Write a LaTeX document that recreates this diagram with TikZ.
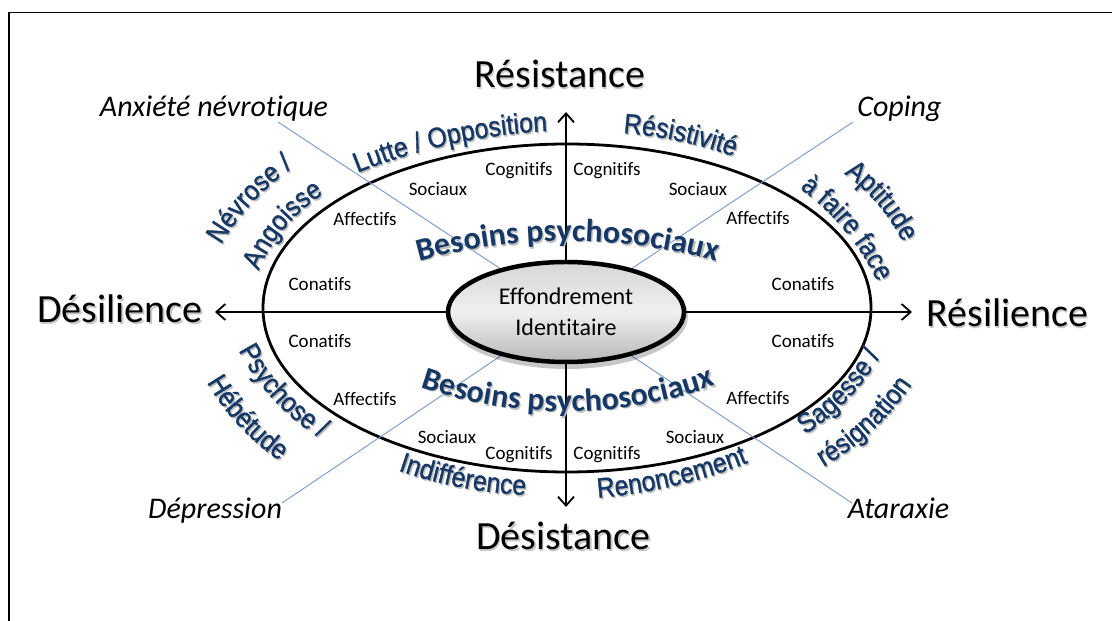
\documentclass[tikz,border=0pt]{standalone}
\usepackage{fontspec}
\setmainfont{Carlito}[Ligatures={NoCommon}]
\newfontfamily\arialf{Liberation Sans}[FakeStretch=0.89,FakeBold=1.2]
\usetikzlibrary{arrows.meta,shapes.geometric,decorations.text,calc}

\definecolor{wordblue}{RGB}{22,56,102}
\definecolor{guideblue}{RGB}{120,152,200}
\definecolor{halo}{RGB}{190,190,190}
\definecolor{polehalo}{RGB}{200,200,200}

\newcommand\wafont{\arialf\fontsize{28}{28}\selectfont}
\newcommand\bsfont{\bfseries\fontsize{32}{32}\selectfont}

% Text bent along a circular arc through the baseline points S=(#2,#3)
% and E=(#4,#5); #6 is the bow (positive: to the left of S->E).
\newcommand\bowtext[7]{%
  \pgfmathsetmacro\bwdx{(#4-#2)/100}%
  \pgfmathsetmacro\bwdy{(#5-#3)/100}%
  \pgfmathsetmacro\bwc{veclen(\bwdx,\bwdy)}%
  \pgfmathsetmacro\bwnx{-\bwdy/\bwc}%
  \pgfmathsetmacro\bwny{\bwdx/\bwc}%
  \pgfmathsetmacro\bwh{(#6)/100}%
  \pgfmathsetmacro\bws{\bwh>0 ? 1 : -1}%
  \pgfmathsetmacro\bwR{(\bwc*\bwc/4+\bwh*\bwh)/(2*abs(\bwh))}%
  \pgfmathsetmacro\bwk{\bwh-\bws*\bwR}%
  \pgfmathsetmacro\bwox{(#2+#4)/200+\bwk*\bwnx}%
  \pgfmathsetmacro\bwoy{(#3+#5)/200+\bwk*\bwny}%
  \pgfmathsetmacro\bwas{atan2(#3/100-\bwoy,#2/100-\bwox)}%
  \pgfmathsetmacro\bwae{atan2(#5/100-\bwoy,#4/100-\bwox)}%
  \pgfmathsetmacro\bwae{\bwh>0 ? (\bwae>\bwas ? \bwae-360 : \bwae) : (\bwae<\bwas ? \bwae+360 : \bwae)}%
  \pgfmathsetmacro\bwext{0.6/\bwR*57.29578}%
  \pgfmathsetmacro\bwsa{\bwas+\bws*\bwext}%
  \pgfmathsetmacro\bwea{\bwae-\bws*\bwext}%
  \pgfmathsetmacro\bwRR{100*\bwR}%
  \pgfmathsetmacro\bwOX{100*\bwox}%
  \pgfmathsetmacro\bwOY{100*\bwoy}%
  \path[decorate,decoration={text along path,text align=center,text color=halo,text={|#1|#7}}]
    ([shift={(\bwsa:\bwRR)},shift={(1.3,-1.6)}]\bwOX,\bwOY) arc[start angle=\bwsa,end angle=\bwea,radius=\bwRR];
  \path[decorate,decoration={text along path,text align=center,text color=wordblue,text={|#1|#7}}]
    ([shift={(\bwsa:\bwRR)}]\bwOX,\bwOY) arc[start angle=\bwsa,end angle=\bwea,radius=\bwRR];
}

\tikzset{
  frame/.style={line width=1.6pt},
  ring/.style={ellipse, draw, line width=2.8pt, minimum width=608pt, minimum height=328pt, inner sep=0pt},
  corebox/.style={ellipse, draw, line width=4.5pt, minimum width=236pt, minimum height=100pt,
    inner sep=0pt, top color=black!16, bottom color=black!28, middle color=black!6,
    font=\fontsize{24}{31}\selectfont, align=center},
  axis/.style={line width=1.8pt, -{Straight Barb[length=9pt,width=16pt]}},
  guide/.style={guideblue, line width=0.9pt},
  need/.style={font=\fontsize{19}{19}\selectfont},
  pole/.style={font=\fontsize{40}{40}\selectfont, anchor=base, inner sep=0pt},
  poleshade/.style={pole, text=polehalo},
  state/.style={font=\itshape\fontsize{30}{30}\selectfont, anchor=base, inner sep=0pt},
}

\begin{document}
\begin{tikzpicture}[x=1pt,y=1pt]
\useasboundingbox (0,0) rectangle (1112,621);
\draw[frame] (1112,608.5) -- (9,608.5) -- (9,0);

% outer ring of psychosocial needs
\node[ring] (ring) at (567,313) {};

% centre and the four guide lines towards the coping states
\coordinate (c) at (566,309);
\coordinate (gAnx) at (278,499);
\coordinate (gCop) at (853,499);
\coordinate (gDep) at (282,118);
\coordinate (gAta) at (852,118);
\draw[guide] (gAnx) -- (c);
\draw[guide] (gCop) -- (c);
\draw[guide] (gDep) -- (c);
\draw[guide] (gAta) -- (c);

% core
\fill[black, opacity=0.22] (567,305) ellipse[x radius=121, y radius=53];
\node[corebox] (core) at (c) {Effondrement\\Identitaire};

% axes
\coordinate (tipN) at (566,509);
\coordinate (tipS) at (566,114);
\coordinate (tipW) at (215,309);
\coordinate (tipE) at (912,309);
\draw[axis] (core.north) -- (tipN);
\draw[axis] (core.south) -- (tipS);
\draw[axis] (core.west) -- (tipW);
\draw[axis] (core.east) -- (tipE);

% poles, each with its soft drop shadow
\node[poleshade] (resistSh) at (561.3,531.6) {Résistance};
\node[poleshade] (desistSh) at (564.8,69.6) {Désistance};
\node[poleshade] (desilSh) at (121.3,296.6) {Désilience};
\node[poleshade] (resilSh) at (1008.8,292.6) {Résilience};
\node[pole] (resist) at (560,533) {Résistance};
\node[pole] (desist) at (563.5,71) {Désistance};
\node[pole] (desil) at (120,298) {Désilience};
\node[pole] (resil) at (1007.5,294) {Résilience};

% coping states
\node[state] (anx) at (214,504) {Anxiété névrotique};
\node[state] (cop) at (899.5,504) {Coping};
\node[state] (dep) at (215,102) {Dépression};
\node[state] (ata) at (898.5,102) {Ataraxie};

% needs inside the ring
\node[need] (cogUL) at (519,450) {Cognitifs};
\node[need] (socUL) at (438,432) {Sociaux};
\node[need] (affUL) at (365,402) {Affectifs};
\node[need] (conUL) at (320,337) {Conatifs};
\node[need] (cogUR) at (607,450) {Cognitifs};
\node[need] (socUR) at (698,432) {Sociaux};
\node[need] (affUR) at (758,403) {Affectifs};
\node[need] (conUR) at (803,337) {Conatifs};
\node[need] (conLL) at (320,280) {Conatifs};
\node[need] (affLL) at (365,222) {Affectifs};
\node[need] (socLL) at (447,184) {Sociaux};
\node[need] (cogLL) at (519,166) {Cognitifs};
\node[need] (conLR) at (803,280) {Conatifs};
\node[need] (affLR) at (758,223) {Affectifs};
\node[need] (socLR) at (695,184) {Sociaux};
\node[need] (cogLR) at (607,166) {Cognitifs};

% bent labels around the ring
\bowtext{\wafont}{357}{448}{548}{490}{8}{Lutte / Opposition}
\bowtext{\wafont}{622}{488}{735}{464}{4}{Résistivité}
\bowtext{\wafont}{258}{349}{325}{428}{8}{Angoisse}
\bowtext{\wafont}{218}{371}{298}{457}{7}{Névrose /}
\bowtext{\wafont}{840}{450}{905}{374}{7}{Aptitude}
\bowtext{\wafont}{799}{433}{878}{338}{8}{à faire face}
\bowtext{\wafont}{239}{270}{320}{183}{-8}{Psychose /}
\bowtext{\wafont}{205}{242}{283}{158}{-7}{Hébétude}
\bowtext{\wafont}{801}{184}{883}{270}{-8}{Sagesse /}
\bowtext{\wafont}{822}{153}{913}{238}{-7}{résignation}
\bowtext{\wafont}{397}{151}{527}{126}{-5}{Indifférence}
\bowtext{\wafont}{596}{123}{750}{159}{-6}{Renoncement}
\bowtext{\bsfont}{414}{358}{722}{358}{22}{Besoins psychosociaux}
\bowtext{\bsfont}{416}{235}{720}{237}{-27}{Besoins psychosociaux}
\end{tikzpicture}
\end{document}
